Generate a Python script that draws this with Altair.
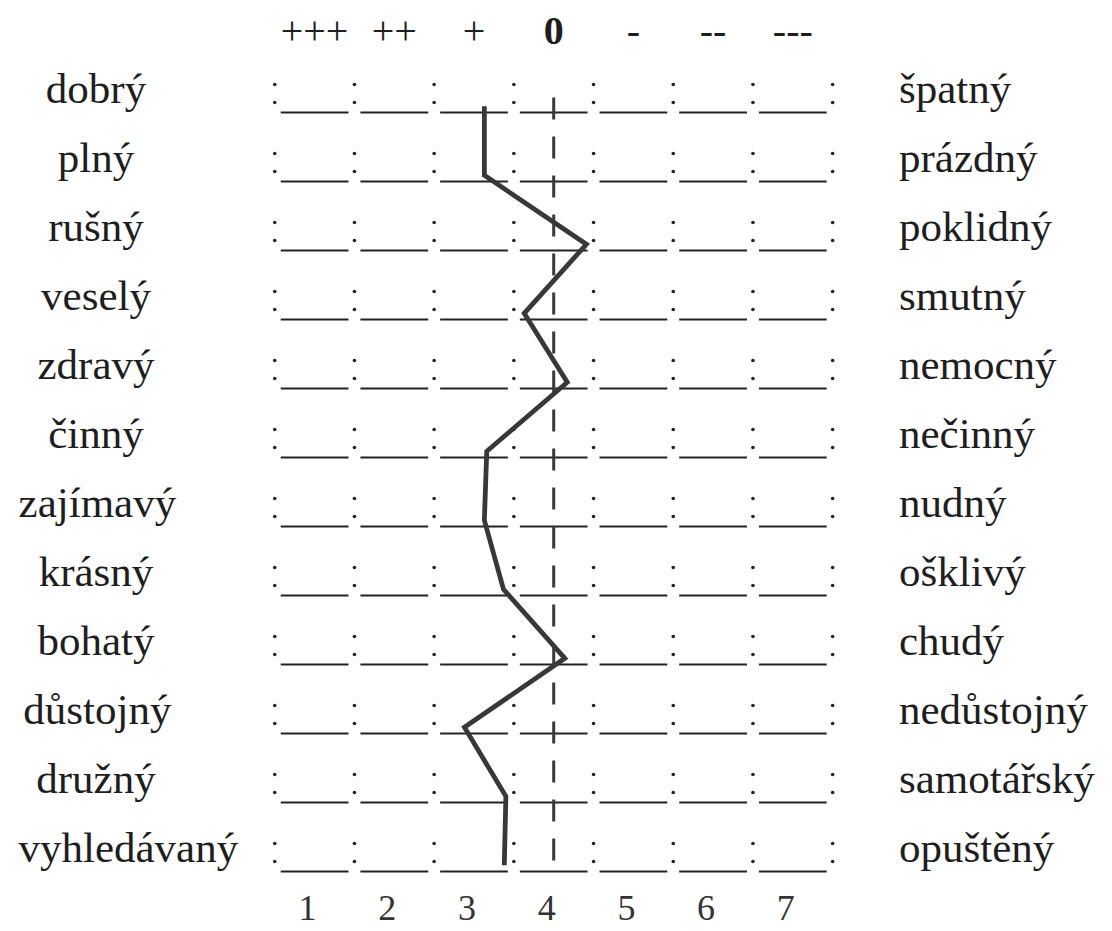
import altair as alt
import pandas as pd

# ---------------- data ----------------
left_terms = ["dobrý", "plný", "rušný", "veselý", "zdravý", "činný", "zajímavý",
              "krásný", "bohatý", "důstojný", "družný", "vyhledávaný"]
right_terms = ["špatný", "prázdný", "poklidný", "smutný", "nemocný", "nečinný", "nudný",
               "ošklivý", "chudý", "nedůstojný", "samotářský", "opuštěný"]
profile_values = [3.13, 3.13, 4.41, 3.63, 4.17, 3.16, 3.13, 3.37, 4.14, 2.88, 3.40, 3.38]
scale_points = [1, 2, 3, 4, 5, 6, 7]
scale_symbols = ["+++", "++", "+", "0", "-", "--", "---"]
neutral_value = 4

# ---------------- geometry (scale set-up) ----------------
SEG = 79.7      # px per scale unit
X1 = 314.6      # page px of scale value 1
ROW = 69.0      # px per row
Y0 = 112.5      # page px of first row's line
W, H = 1092, 914
xa = 1 + (8 - X1) / SEG
xb = xa + W / SEG
ya = (8 - Y0) / ROW
yb = ya + H / ROW

def px2v(px):
    return 1 + (px - X1) / SEG

FONT = "Liberation Serif"
n = len(left_terms)

xs = alt.Scale(domain=[xa, xb], nice=False, zero=False)
ys = alt.Scale(domain=[ya, yb], nice=False, zero=False, reverse=True)

def X(f):
    return alt.X(f, type="quantitative", scale=xs, axis=None)

def Y(f):
    return alt.Y(f, type="quantitative", scale=ys, axis=None)

# underscores
seg_df = pd.DataFrame([{"row": i, "p": p} for i in range(n) for p in scale_points])
underscores = alt.Chart(seg_df).mark_rule(color="#232323", strokeWidth=1.8).transform_calculate(
    a="datum.p - 0.425", b="datum.p + 0.425"
).encode(x=X("a"), x2="b:Q", y=Y("row"))

# colon dots
dot_df = pd.DataFrame([{"row": i, "c": c + 0.5, "k": k}
                       for i in range(n) for c in range(len(scale_points) + 1) for k in (0, 1)])
dots = alt.Chart(dot_df).mark_circle(color="#222222", size=13, opacity=1).transform_calculate(
    yy="datum.row - (datum.k == 0 ? 0.406 : 0.145)"
).encode(x=X("c"), y=Y("yy"))

# neutral dashed line
neutral_df = pd.DataFrame({"v": [neutral_value], "top": [0], "bottom": [n - 1]})
neutral = alt.Chart(neutral_df).mark_rule(color="#3a3a3a", strokeWidth=3, strokeDash=[22, 17]).transform_calculate(
    y1="datum.top - 0.217", y2="datum.bottom + 0.01"
).encode(x=X("v"), y=Y("y1"), y2="y2:Q")

# profile line
prof_df = pd.DataFrame({"row": list(range(n)), "value": profile_values, "term": left_terms})
profile = alt.Chart(prof_df).mark_line(color="#383838", strokeWidth=4.8).transform_calculate(
    yy="datum.row - 0.09"
).encode(x=X("value"), y=Y("yy"), order="row:Q")

# left / right labels
lab_df = pd.DataFrame({"row": list(range(n)), "left": left_terms, "right": right_terms})
lab_df["lx"] = [px2v(max(96, 15 + 10.3 * len(t))) for t in left_terms]
lab_df["rx"] = px2v(899)
left_labels = alt.Chart(lab_df).mark_text(
    font=FONT, fontSize=43, align="center", baseline="alphabetic", color="#1e1e1e"
).transform_calculate(yy="datum.row - 0.135").encode(x=X("lx"), y=Y("yy"), text="left:N")
right_labels = alt.Chart(lab_df).mark_text(
    font=FONT, fontSize=43, align="left", baseline="alphabetic", color="#1e1e1e"
).transform_calculate(yy="datum.row - 0.135").encode(x=X("rx"), y=Y("yy"), text="right:N")

# top symbols
sym_df = pd.DataFrame({"p": scale_points, "s": scale_symbols})
sym_y = (43.5 - Y0) / ROW
top_syms = alt.Chart(sym_df).transform_filter("datum.s != '0'").mark_text(
    font=FONT, fontSize=40, align="center", baseline="alphabetic", color="#1e1e1e"
).transform_calculate(yy=str(sym_y)).encode(x=X("p"), y=Y("yy"), text="s:N")
top_zero = alt.Chart(sym_df).transform_filter("datum.s == '0'").mark_text(
    font=FONT, fontSize=40, fontWeight="bold", align="center", baseline="alphabetic", color="#1e1e1e"
).transform_calculate(yy=str(sym_y)).encode(x=X("p"), y=Y("yy"), text="s:N")

# bottom numbers
num_y = (920 - Y0) / ROW
nums = alt.Chart(sym_df).mark_text(
    font=FONT, fontSize=36, align="center", baseline="alphabetic", color="#333333", dx=-7
).transform_calculate(yy=str(num_y)).encode(x=X("p"), y=Y("yy"), text="p:N")

chart = alt.layer(
    underscores, dots, neutral, profile, left_labels, right_labels, top_syms, top_zero, nums
).properties(width=W, height=H, padding=0, background="white").configure_view(stroke=None)

chart.save("out.html", embed_options={"renderer": "svg", "actions": False})
